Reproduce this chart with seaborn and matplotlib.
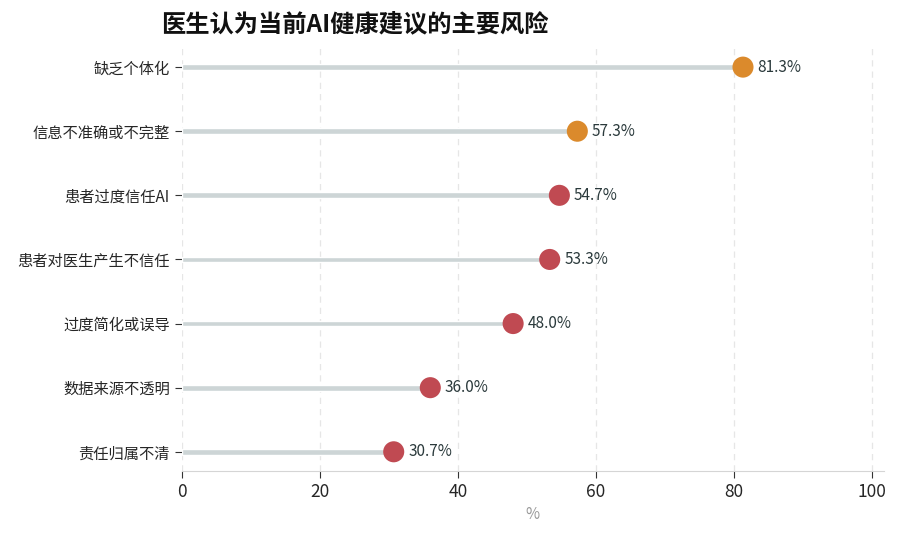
import pandas as pd
import seaborn as sns
import matplotlib.pyplot as plt

# 数据
risks = ['缺乏个体化', '信息不准确或不完整', '患者过度信任AI', '患者对医生产生不信任',
         '过度简化或误导', '数据来源不透明', '责任归属不清']
values = [81.3, 57.3, 54.7, 53.3, 48.0, 36.0, 30.7]
highlight = ['高', '高', '低', '低', '低', '低', '低']

df = pd.DataFrame({'risk': risks, 'value': values, 'group': highlight})

sns.set_style('white')
plt.rcParams['font.family'] = ['Noto Sans CJK SC', 'DejaVu Sans']

fig = plt.figure(figsize=(9, 5.38), dpi=100)
ax = fig.add_axes([0.202, 0.1245, 0.78, 0.7865])

# 竖向虚线网格
ax.set_axisbelow(True)
ax.grid(axis='x', linestyle=(0, (5, 4)), color='#e6e6e6', linewidth=0.9)

# 棒条（细条形）
sns.barplot(data=df, x='value', y='risk', color='#cdd5d6', width=0.09,
            saturation=1, ax=ax, zorder=2)
# 圆点
sns.scatterplot(data=df, x='value', y='risk', hue='group',
                palette={'高': '#db8a2c', '低': '#c04a52'}, s=230,
                edgecolor='none', legend=False, ax=ax, zorder=3)

for i, v in enumerate(values):
    ax.text(v + 2.1, i, f'{v:.1f}%', va='center', ha='left',
            fontsize=11, color='#2b3a3c')

ax.set_xlim(0, 101.7)
ax.set_ylim(6.3, -0.3)
ax.set_xticks([0, 20, 40, 60, 80, 100])
ax.tick_params(axis='x', bottom=True, labelsize=12.5, length=5, color='#333333', width=0.8)
ax.tick_params(axis='y', left=True, labelsize=11, length=5, color='#333333', width=0.8)
ax.set_ylabel('')
ax.set_xlabel('%', color='#999999', fontsize=11)

sns.despine(ax=ax, left=True)
ax.spines['bottom'].set_color('#d5d5d5')

fig.text(0.179, 0.955, '医生认为当前AI健康建议的主要风险', fontsize=17.5,
         fontweight='bold', ha='left', va='center', color='#111111')

plt.savefig('out.png')
